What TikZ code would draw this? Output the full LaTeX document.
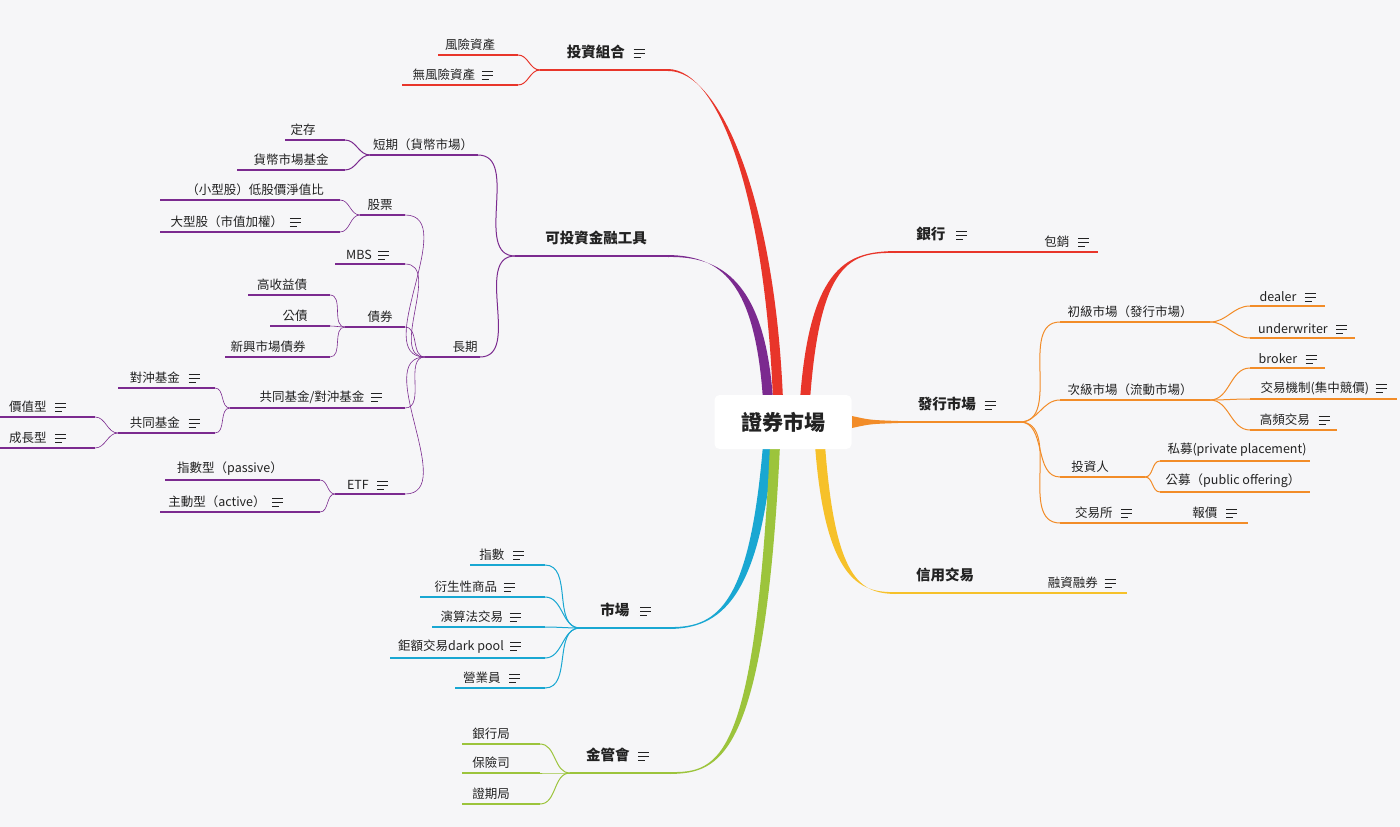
\documentclass[tikz,border=0pt]{standalone}
\usepackage{fontspec}
\setmainfont{Noto Sans CJK TC}
\definecolor{cR}{HTML}{E8352A}\definecolor{cP}{HTML}{7B2A8F}\definecolor{cB}{HTML}{19A7D2}
\definecolor{cG}{HTML}{9CC43C}\definecolor{cO}{HTML}{F28C28}\definecolor{cY}{HTML}{F6C12A}
\definecolor{txt}{HTML}{222222}\definecolor{bg}{HTML}{F6F6F8}
\newcommand\nic{\tikz[baseline=0pt,x=1pt,y=1pt,line width=1.1pt,draw=txt]{\draw(0,8)--(11,8)(0,4)--(11,4)(0,0)--(7,0);}}
\newcommand\leaf[7]{\coordinate (#1L) at (#2,#4);\coordinate (#1R) at (#3,#4);
 \draw[#5,line width=1.3pt] (#1L)--(#1R);
 \node[lbl,anchor=south] (#1) at (#6,#4-3) {#7};}
\newcommand\tleaf[7]{\coordinate (#1L) at (#2,#4);\coordinate (#1R) at (#3,#4);
 \draw[#5,line width=2pt] (#1L)--(#1R);
 \node[top,anchor=south] (#1) at (#6,#4-9) {#7};}
\newcommand\rib[9]{\fill[#1] ({#2-5},#3) .. controls ({#4-5},#5) and (#6,#7) .. (#8,{#9-1}) -- (#8,{#9+1}) .. controls (#6,#7) and ({#4+5},#5) .. ({#2+5},#3) -- cycle;}
\begin{document}
\begin{tikzpicture}[x=1pt,y=-1pt,
 lbl/.style={font=\fontsize{12.5}{15}\selectfont,text=txt,inner sep=1pt},
 top/.style={font=\fontsize{14.5}{17}\selectfont\bfseries,text=txt,inner sep=2pt},
 cl/.style={line width=1pt},
 L/.style={out=180,in=0},Rr/.style={out=0,in=180}]
\fill[bg] (0,0) rectangle (1400,827);
\useasboundingbox (0,0) rectangle (1400,827);
% ribbons
\rib{cR}{778}{400}{770}{200}{720}{70}{668}{70}
\rib{cP}{768}{400}{760}{280}{720}{256}{668}{256}
\rib{cB}{768}{445}{755}{600}{720}{628}{670}{628}
\rib{cG}{775}{445}{760}{760}{720}{773}{670}{773}
\rib{cR}{805}{400}{815}{262}{850}{252}{895}{252}
\rib{cY}{820}{445}{830}{580}{860}{593}{895}{593}
\fill[cO] (852,416) .. controls (870,420) .. (898,421) -- (898,423) .. controls (870,424) .. (852,428) -- cycle;
% center
\node[fill=white,rounded corners=5pt,minimum width=137pt,minimum height=54pt,font=\fontsize{21}{24}\selectfont\bfseries,text=txt] (C) at (783,422) {證券市場};
% top-level
\tleaf{tz}{540}{668}{70}{cR}{606}{投資組合\hspace{8pt}\nic}
\tleaf{kt}{515}{668}{256}{cP}{596}{可投資金融工具}
\tleaf{sc}{580}{670}{628}{cB}{626}{市場\hspace{10pt}\nic}
\tleaf{jg}{570}{670}{773}{cG}{618}{金管會\hspace{8pt}\nic}
\tleaf{yh}{895}{1020}{252}{cR}{942}{銀行\hspace{10pt}\nic}
\tleaf{fx}{898}{1020}{422}{cO}{957}{發行市場\hspace{8pt}\nic}
\tleaf{xy}{895}{1020}{593}{cY}{945}{信用交易}
% red top-left
\leaf{fz}{438}{518}{55}{cR}{470}{風險資產}
\leaf{wf}{402}{518}{85}{cR}{453}{無風險資產\hspace{6pt}\nic}
\draw[cR,cl] (tzL) to[L] (fzR); \draw[cR,cl] (tzL) to[L] (wfR);
% purple
\leaf{dq}{370}{478}{155}{cP}{423}{短期（貨幣市場）}
\leaf{cq}{425}{480}{357}{cP}{465}{長期}
\draw[cP,cl] (ktL) to[L] (dqR); \draw[cP,cl] (ktL) to[L] (cqR);
\leaf{dc}{285}{345}{140}{cP}{303}{定存}
\leaf{hb}{237}{345}{170}{cP}{291}{貨幣市場基金}
\draw[cP,cl] (dqL) to[L] (dcR); \draw[cP,cl] (dqL) to[L] (hbR);
\leaf{gp}{360}{405}{215}{cP}{380}{股票}
\leaf{mb}{335}{405}{264}{cP}{368}{MBS\hspace{6pt}\nic}
\leaf{zq}{345}{405}{327}{cP}{380}{債券}
\leaf{gt}{230}{405}{408}{cP}{321}{共同基金/對沖基金\hspace{6pt}\nic}
\leaf{et}{335}{405}{494}{cP}{368}{ETF\hspace{8pt}\nic}
\foreach \c in {gp,mb,zq,gt,et} \draw[cP,cl,line width=0.6pt] (cqL) to[L] (\c R);
\leaf{xx}{160}{340}{200}{cP}{255}{（小型股）低股價淨值比}
\leaf{dx}{160}{340}{232}{cP}{236}{大型股（市值加權）\hspace{6pt}\nic}
\draw[cP,cl,line width=0.6pt] (gpL) to[L] (xxR); \draw[cP,cl,line width=0.6pt] (gpL) to[L] (dxR);
\leaf{gs}{248}{330}{295}{cP}{282}{高收益債}
\leaf{gz}{270}{330}{326}{cP}{295}{公債}
\leaf{xs}{225}{330}{357}{cP}{268}{新興市場債券}
\foreach \c in {gs,gz,xs} \draw[cP,cl,line width=0.6pt] (zqL) to[L] (\c R);
\leaf{dh}{118}{215}{388}{cP}{165}{對沖基金\hspace{8pt}\nic}
\leaf{gj}{118}{215}{433}{cP}{165}{共同基金\hspace{8pt}\nic}
\draw[cP,cl,line width=0.6pt] (gtL) to[L] (dhR); \draw[cP,cl,line width=0.6pt] (gtL) to[L] (gjR);
\leaf{jz}{0}{95}{417}{cP}{38}{價值型\hspace{8pt}\nic}
\leaf{cz}{0}{95}{448}{cP}{38}{成長型\hspace{8pt}\nic}
\draw[cP,cl,line width=0.6pt] (gjL) to[L] (jzR); \draw[cP,cl,line width=0.6pt] (gjL) to[L] (czR);
\leaf{zs}{165}{320}{480}{cP}{230}{指數型（passive）}
\leaf{zd}{160}{320}{512}{cP}{226}{主動型（active）\hspace{6pt}\nic}
\draw[cP,cl,line width=0.6pt] (etL) to[L] (zsR); \draw[cP,cl,line width=0.6pt] (etL) to[L] (zdR);
% blue
\leaf{b1}{470}{545}{565}{cB}{502}{指數\hspace{8pt}\nic}
\leaf{b2}{420}{545}{597}{cB}{475}{衍生性商品\hspace{6pt}\nic}
\leaf{b3}{432}{545}{627}{cB}{481}{演算法交易\hspace{6pt}\nic}
\leaf{b4}{390}{545}{658}{cB}{460}{鉅額交易dark pool\hspace{6pt}\nic}
\leaf{b5}{455}{545}{688}{cB}{492}{營業員\hspace{8pt}\nic}
\foreach \c in {b1,b2,b3,b4,b5} \draw[cB,cl] (scL) to[L] (\c R);
% green
\leaf{g1}{462}{540}{744}{cG}{491}{銀行局}
\leaf{g2}{462}{540}{773}{cG}{491}{保險司}
\leaf{g3}{462}{540}{804}{cG}{491}{證期局}
\foreach \c in {g1,g2,g3} \draw[cG,cl] (jgL) to[L] (\c R);
% right
\leaf{bx}{1020}{1098}{252}{cR}{1067}{包銷\hspace{8pt}\nic}
\leaf{rz}{1020}{1127}{593}{cY}{1082}{融資融券\hspace{6pt}\nic}
\leaf{cj}{1060}{1210}{322}{cO}{1130}{初級市場（發行市場）}
\leaf{cc}{1060}{1210}{400}{cO}{1130}{次級市場（流動市場）}
\leaf{tr}{1060}{1145}{477}{cO}{1090}{投資人}
\draw[cO,line width=2.5pt] (1060,477)--(1145,477);
\leaf{js}{1060}{1140}{523}{cO}{1104}{交易所\hspace{8pt}\nic}
\draw[cO,line width=2.5pt] (1060,523)--(1140,523);
\foreach \c in {cj,cc,tr,js} \draw[cO,cl] (fxR) to[Rr] (\c L);
\leaf{dl}{1250}{1325}{306}{cO}{1288}{dealer\hspace{8pt}\nic}
\leaf{uw}{1250}{1355}{338}{cO}{1303}{underwriter\hspace{8pt}\nic}
\draw[cO,cl] (cjR) to[Rr] (dlL); \draw[cO,cl] (cjR) to[Rr] (uwL);
\leaf{bk}{1250}{1325}{368}{cO}{1288}{broker\hspace{8pt}\nic}
\leaf{jy}{1250}{1397}{399}{cO}{1324}{交易機制(集中競價)\hspace{6pt}\nic}
\leaf{gp2}{1250}{1337}{430}{cO}{1295}{高頻交易\hspace{8pt}\nic}
\foreach \c in {bk,jy,gp2} \draw[cO,cl] (ccR) to[Rr] (\c L);
\leaf{sm}{1160}{1310}{461}{cO}{1237}{私募(private placement)}
\leaf{gm}{1160}{1310}{492}{cO}{1233}{公募（public offering）}
\draw[cO,cl] (trR) to[Rr] (smL); \draw[cO,cl] (trR) to[Rr] (gmL);
\leaf{bj}{1140}{1248}{523}{cO}{1215}{報價\hspace{8pt}\nic}
\end{tikzpicture}
\end{document}
